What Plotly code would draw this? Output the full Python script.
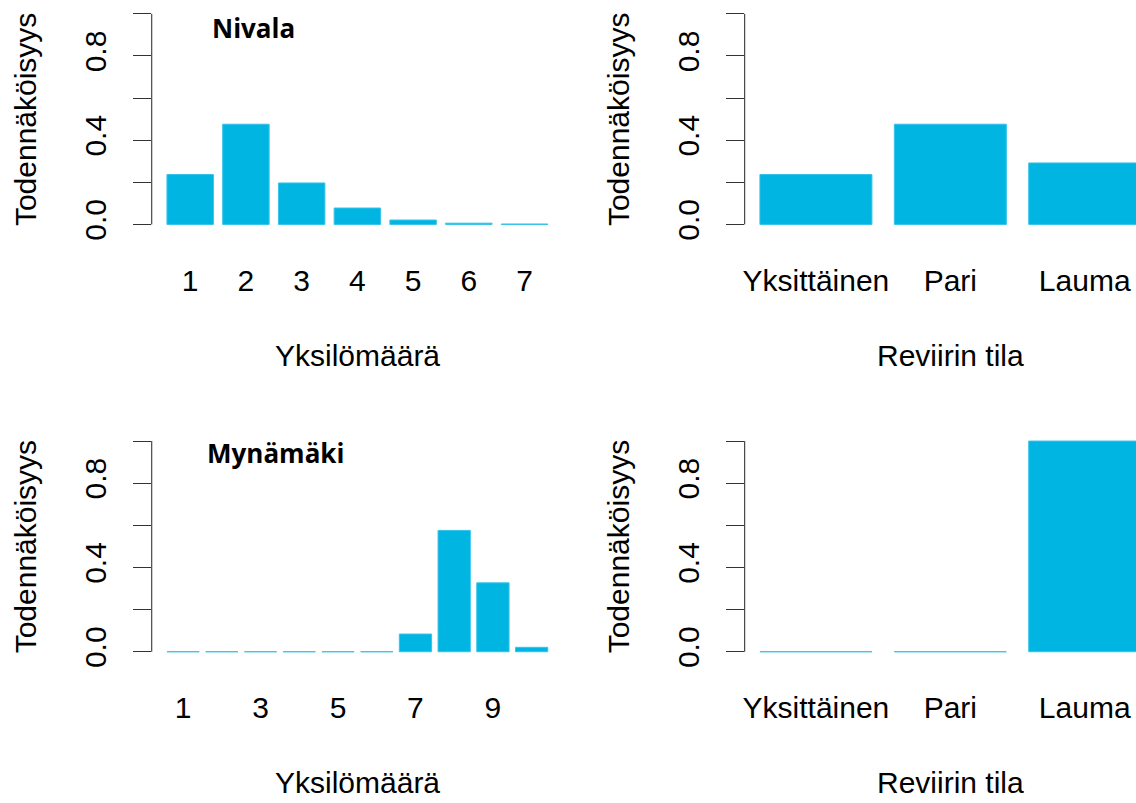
import plotly.graph_objects as go

# Probability distributions of pack size (Yksilömäärä) and territory status
nivala_sizes = ["1", "2", "3", "4", "5", "6", "7"]
nivala_size_probs = [0.237, 0.476, 0.197, 0.078, 0.021, 0.006, 0.002]
nivala_size_ticks = ["1", "2", "3", "4", "5", "6", "7"]

mynamaki_sizes = ["1", "2", "3", "4", "5", "6", "7", "8", "9", "10"]
mynamaki_size_probs = [0.0, 0.0, 0.0, 0.0, 0.0, 0.0, 0.084, 0.576, 0.327, 0.021]
mynamaki_size_ticks = ["1", "3", "5", "7", "9"]

status_labels = ["Yksittäinen", "Pari", "Lauma"]
nivala_status_probs = [0.237, 0.476, 0.292]
mynamaki_status_probs = [0.0, 0.0, 1.0]

y_tick_values = [0.0, 0.2, 0.4, 0.6, 0.8, 1.0]
y_tick_text = ["0.0", "", "0.4", "", "0.8", ""]

W, H = 1136, 803
BAR_FILL = "#00b5e2"
BAR_EDGE = "#35c3ea"
AXIS_FONT = dict(family="Liberation Sans, Arial, sans-serif", size=30, color="#000000")
TITLE_FONT = dict(family="Open Sans, sans-serif", size=26, color="#000000")

# pixel geometry of the panels (plot regions)
COL_LEFT = [150.0, 744.0]
PLOT_W = 412.0
ROW_ONE = [14.0, 445.5]     # pixel of y = 1
ROW_ZERO = [226.7, 658.3]   # pixel of y = 0
Y_LO, Y_HI = -0.04, 1.04


def cat_range(n, left_px, right_clip=None):
    # barplot-style x extent (space 0.2, 4% padding) in category units
    lo, hi = 0.2, 1.2 * n
    pad = 0.04 * (hi - lo)
    u0, u1 = lo - pad, hi + pad
    if right_clip is not None and left_px + PLOT_W > right_clip:
        u1 = u0 + (right_clip - left_px) / PLOT_W * (u1 - u0)
    return [(u0 - 0.7) / 1.2, (u1 - 0.7) / 1.2]


def y_domain(r):
    per = ROW_ZERO[r] - ROW_ONE[r]
    top = ROW_ONE[r] - (Y_HI - 1.0) * per
    bot = ROW_ZERO[r] + (0.0 - Y_LO) * per
    return [1 - bot / H, 1 - top / H]


def x_domain(c):
    l = COL_LEFT[c]
    r = min(l + PLOT_W, W)
    return [l / W, r / W]


panels = [
    (0, 0, nivala_sizes, nivala_size_probs, nivala_size_ticks),
    (0, 1, status_labels, nivala_status_probs, status_labels),
    (1, 0, mynamaki_sizes, mynamaki_size_probs, mynamaki_size_ticks),
    (1, 1, status_labels, mynamaki_status_probs, status_labels),
]

fig = go.Figure()
layout = dict(
    width=W, height=H,
    margin=dict(l=0, r=0, t=0, b=0),
    paper_bgcolor="white", plot_bgcolor="white",
    bargap=1 - 1 / 1.2,
    showlegend=False,
    shapes=[], annotations=[],
)

for i, (r, c, cats, vals, ticks) in enumerate(panels):
    k = "" if i == 0 else str(i + 1)
    fig.add_trace(go.Bar(
        x=cats, y=vals, xaxis="x" + k, yaxis="y" + k,
        marker=dict(color=BAR_FILL, line=dict(color=BAR_EDGE, width=1)),
        hoverinfo="x+y",
    ))
    rng = cat_range(len(cats), COL_LEFT[c], right_clip=W)
    layout["xaxis" + k] = dict(
        domain=x_domain(c), anchor="y" + k, type="category",
        range=rng, showgrid=False, zeroline=False, showline=False,
        ticks="", tickmode="array", tickvals=ticks, ticktext=ticks,
        tickfont=AXIS_FONT, ticklabelstandoff=27,
    )
    layout["yaxis" + k] = dict(
        domain=y_domain(r), anchor="x" + k, range=[Y_LO, Y_HI],
        showgrid=False, zeroline=False, showline=False,
        ticks="outside", ticklen=18, tickwidth=1, tickcolor="#333333",
        tickmode="array", tickvals=y_tick_values, ticktext=y_tick_text,
        tickangle=-90, tickfont=AXIS_FONT, ticklabelstandoff=15,
    )
    # y axis line spanning 0..1 only
    layout["shapes"].append(dict(
        type="line", xref=("x" + k + " domain"), yref=("y" + k),
        x0=0, x1=0, y0=0, y1=1, line=dict(color="#222222", width=1),
    ))
    # axis titles
    per = ROW_ZERO[r] - ROW_ONE[r]
    mid_y = (ROW_ONE[r] - 0.04 * per + ROW_ZERO[r] + 0.04 * per) / 2
    layout["annotations"].append(dict(
        text="Todennäköisyys", textangle=-90, showarrow=False,
        xref="paper", yref="paper",
        x=(COL_LEFT[c] - 127) / W, y=1 - mid_y / H,
        xanchor="center", yanchor="middle", font=AXIS_FONT,
    ))
    layout["annotations"].append(dict(
        text="Yksilömäärä" if c == 0 else "Reviirin tila", showarrow=False,
        xref="paper", yref="paper",
        x=(COL_LEFT[c] + PLOT_W / 2) / W, y=1 - (ROW_ZERO[r] + 132) / H,
        xanchor="center", yanchor="middle", font=AXIS_FONT,
    ))

# site names
layout["annotations"].append(dict(
    text="<b>Nivala</b>", showarrow=False, xref="paper", yref="paper",
    x=208 / W, y=1 - 28 / H, xanchor="left", yanchor="middle", font=TITLE_FONT,
))
layout["annotations"].append(dict(
    text="<b>Mynämäki</b>", showarrow=False, xref="paper", yref="paper",
    x=203 / W, y=1 - 458 / H, xanchor="left", yanchor="middle", font=TITLE_FONT,
))

fig.update_layout(**layout)
fig.write_html("out.html")
